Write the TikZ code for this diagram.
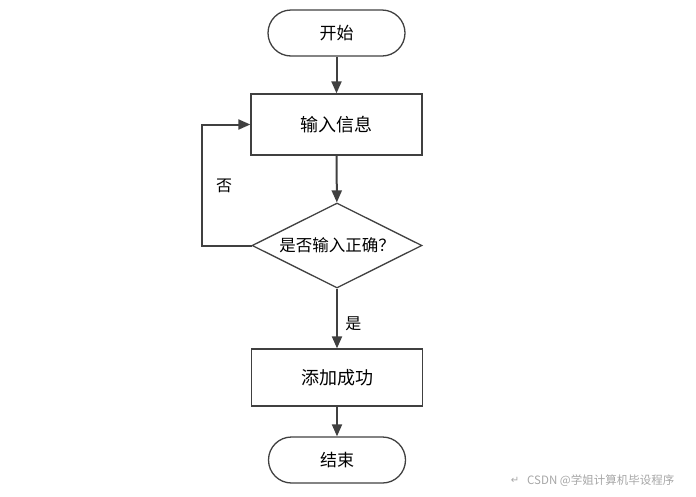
\documentclass[tikz,border=0pt]{standalone}
\usepackage{fontspec}
\setmainfont{Noto Sans CJK SC}
\newfontfamily\symfont{DejaVu Sans}
\usetikzlibrary{shapes.geometric,arrows.meta}
\definecolor{linegray}{HTML}{404040}
\tikzset{%
  terminal/.style = {shape=rectangle, rounded corners=23pt, draw=linegray, line width=1.3pt,%
                     minimum width=137pt, minimum height=46pt, font=\fontsize{17}{20}\selectfont},%
  process/.style  = {shape=rectangle, draw=linegray, line width=1.3pt,%
                     minimum width=171pt, font=\fontsize{18}{21}\selectfont},%
  decision/.style = {shape=diamond, aspect=2, inner sep=0pt, draw=linegray, line width=1.3pt,%
                     minimum width=170pt, minimum height=85pt, font=\fontsize{16.5}{19}\selectfont},%
  flow/.style     = {draw=linegray, line width=2pt, -{Triangle[length=12pt,width=10pt]}},%
  tag/.style      = {font=\fontsize{16}{19}\selectfont}%
}
\begin{document}
\begin{tikzpicture}[x=1pt,y=-1pt]
  \useasboundingbox (0,0) rectangle (696,496);
  \node[terminal] (start) at (336.5,33) {开始};
  \node[process, minimum height=61pt] (input) at (336.5,124.5) {输入信息};
  \node[decision] (check) at (337,245.5) {是否输入正确？};
  \node[process, minimum height=57pt] (add) at (337,377.5) {添加成功};
  \node[terminal] (stop) at (337,460) {结束};
  \coordinate (back) at (202,0);
  % connectors
  \draw[flow] (start) -- (input);
  \draw[flow] (input) -- (check);
  \draw[flow] (check) -- node[tag, right=4pt, pos=0.58] {是} (add);
  \draw[flow] (add) -- (stop);
  \draw[flow, line cap=rect] (check.west) -| (back |- input.west) -- (input.west);
  \node[tag] (no) at (224,186) {否};
  % watermark
  \node[text=black!35, font=\symfont\fontsize{10}{12}\selectfont] (mark) at (515,480) {↵};
  \node[anchor=west, inner sep=0pt, text=black!35, font=\fontsize{11.5}{13}\selectfont] (csdn) at (527,481) {CSDN @学姐计算机毕设程序};
\end{tikzpicture}
\end{document}
